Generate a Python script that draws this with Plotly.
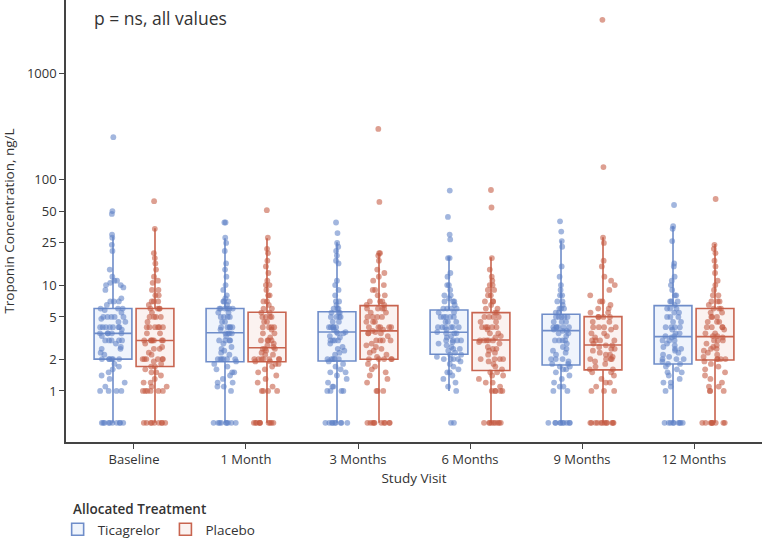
import plotly.graph_objects as go

visits = ["Baseline", "1 Month", "3 Months", "6 Months", "9 Months", "12 Months"]

# box statistics (ng/L)
tic_q1 = [2.0, 1.89, 1.92, 2.22, 1.76, 1.8]
tic_med = [3.5, 3.55, 3.6, 3.58, 3.71, 3.26]
tic_q3 = [6.0, 6.0, 5.6, 5.82, 5.3, 6.4]
tic_hi = [28.6, 27.7, 25.4, 18.5, 26.3, 36.0]
tic_lo = [0.5, 0.5, 0.5, 1.0, 0.5, 0.5]

pla_q1 = [1.7, 1.89, 1.99, 1.56, 1.58, 1.96]
pla_med = [3.0, 2.56, 3.69, 3.03, 2.72, 3.26]
pla_q3 = [6.0, 5.53, 6.4, 5.49, 5.03, 6.0]
pla_hi = [34.4, 27.7, 20.0, 18.3, 28.3, 24.4]
pla_lo = [0.5, 0.5, 0.5, 0.5, 0.5, 0.5]

# individual patient values (values below detection shown at 0.5)
tic_baseline = [249, 50, 47, 30, 28, 24, 21, 14, 12, 11, 11, 10.5, 10, 10, 9.5, 9, 7.5, 7, 7, 7, 6.5, 6, 6, 6,
                5.8, 5.5, 5, 5, 5, 5, 5, 4.8, 4.5, 4.5, 4, 4, 4, 4, 4, 4, 4, 3.8, 3.5, 3.5, 3.5, 3.5, 3.5,
                3.3, 3, 3, 3, 3, 3, 2.8, 2.6, 2.5, 2.5, 2.3, 2.2, 2, 2, 2, 2, 2, 2, 1.8, 1.7, 1.6, 1.5, 1.4,
                1.3, 1.2, 1.1, 1, 1, 1, 1] + [0.5] * 10
pla_baseline = [62, 34, 20, 18, 16, 14, 12, 11, 10.5, 9, 9, 8, 8, 7, 7, 7, 6.5, 6, 6, 6, 6, 5.5, 5, 5, 5, 5,
                4.5, 4, 4, 4, 4, 4, 4, 3.5, 3.5, 3, 3, 3, 3, 3, 3, 3, 2.8, 2.6, 2.5, 2.5, 2.3, 2.2, 2, 2, 2,
                2, 2, 2, 1.9, 1.8, 1.7, 1.7, 1.6, 1.5, 1.5, 1.4, 1.3, 1.2, 1.2, 1.1, 1, 1, 1, 1, 1, 1,
                1.1] + [0.5] * 9
tic_1m = [39, 39, 28, 25, 21, 16, 14, 12, 10, 9, 8, 7.5, 7, 7, 7, 6.5, 6, 6, 6, 6, 6, 6, 5.5, 5.5, 5, 5, 5, 5,
          4.5, 4.5, 4, 4, 4, 4, 4, 3.8, 3.5, 3.5, 3.5, 3.5, 3.3, 3, 3, 3, 3, 2.8, 2.6, 2.5, 2.4, 2.3, 2.2, 2,
          2, 2, 2, 2, 2, 1.9, 1.8, 1.7, 1.6, 1.5, 1.5, 1.4, 1.3, 1.2, 1.2, 1.1, 1.1, 1] + [0.5] * 9
pla_1m = [51, 28, 22, 20, 17, 15, 13, 11, 10, 10, 9, 8, 8, 7, 7, 6.5, 6, 6, 5.5, 5.5, 5, 5, 5, 5, 4.5, 4.5, 4,
          4, 4, 4, 3.8, 3.5, 3.5, 3.2, 3, 3, 3, 3, 2.8, 2.7, 2.6, 2.5, 2.5, 2.5, 2.4, 2.3, 2.2, 2.2, 2, 2, 2,
          2, 2, 2, 2, 1.9, 1.9, 1.8, 1.8, 1.7, 1.6, 1.5, 1.4, 1.3, 1.2, 1.1, 1, 1, 1, 1] + [0.5] * 10
tic_3m = [39, 31, 25, 23, 21, 19, 17, 16, 11, 10, 9, 8, 7, 7, 6.5, 6, 6, 6, 5.5, 5.5, 5.5, 5, 5, 5, 5, 4.5,
          4.5, 4, 4, 4, 4, 4, 3.8, 3.6, 3.6, 3.5, 3.5, 3.3, 3.2, 3, 3, 3, 3, 2.8, 2.6, 2.5, 2.4, 2.3, 2.2, 2,
          2, 2, 2, 2, 1.9, 1.8, 1.7, 1.6, 1.5, 1.5, 1.4, 1.3, 1.2, 1.1, 1.1, 1, 1, 1, 1] + [0.5] * 9
pla_3m = [298, 61, 20, 20, 19, 17, 14, 13, 12, 11, 10, 9, 9, 8, 8, 7, 7, 7, 6.5, 6.5, 6, 6, 6, 6, 5.5, 5.5, 5,
          5, 5, 5, 4.5, 4.5, 4.5, 4, 4, 4, 4, 4, 3.8, 3.7, 3.6, 3.5, 3.5, 3.5, 3.3, 3, 3, 3, 3, 2.8, 2.7,
          2.6, 2.5, 2.4, 2.3, 2.2, 2.1, 2, 2, 2, 2, 2, 1.8, 1.7, 1.6, 1.5, 1.4, 1.3, 1.2, 1, 1, 1] + [0.5] * 10
tic_6m = [78, 44, 30, 27, 18, 18, 13, 12, 10, 10, 9, 8, 8, 7.5, 7, 7, 7, 6.5, 6, 6, 6, 6, 5.5, 5.5, 5, 5, 5, 5,
          5, 4.5, 4.5, 4.5, 4, 4, 4, 4, 4, 4, 3.8, 3.6, 3.5, 3.5, 3.5, 3.3, 3.2, 3, 3, 3, 3, 2.9, 2.8, 2.7,
          2.6, 2.5, 2.5, 2.4, 2.3, 2.2, 2.2, 2.1, 2, 2, 2, 2, 1.9, 1.8, 1.7, 1.6, 1.5, 1.5, 1.4, 1.3, 1.2,
          1.1, 1, 0.5, 0.5]
pla_6m = [79, 54, 18, 14, 12, 11, 10, 10, 9, 9, 8, 8, 7, 7, 7, 6.5, 6, 6, 5.5, 5.5, 5, 5, 5, 5, 4.5, 4.5, 4, 4,
          4, 4, 4, 3.8, 3.5, 3.5, 3.3, 3.2, 3, 3, 3, 3, 3, 2.9, 2.8, 2.6, 2.5, 2.5, 2.4, 2.3, 2.2, 2, 2, 2, 2,
          1.9, 1.8, 1.7, 1.6, 1.5, 1.5, 1.4, 1.4, 1.3, 1.2, 1.2, 1.1, 1, 1, 1, 1, 1] + [0.5] * 9
tic_9m = [40, 32, 26, 23, 15, 12, 10, 9, 8, 8, 7, 7, 6.5, 6, 6, 6, 5.5, 5.5, 5, 5, 5, 5, 5, 4.5, 4.5, 4.5, 4, 4,
          4, 4, 4, 4, 3.8, 3.7, 3.7, 3.5, 3.5, 3.3, 3, 3, 3, 3, 2.8, 2.6, 2.5, 2.4, 2.3, 2.2, 2, 2, 2, 1.9,
          1.8, 1.8, 1.7, 1.7, 1.6, 1.6, 1.5, 1.4, 1.3, 1.2, 1.1, 1.1, 1, 1] + [0.5] * 10
pla_9m = [3200, 130, 28, 25, 17, 15, 12, 11, 10, 9, 8, 7, 7, 6.5, 6, 6, 5.5, 5.5, 5, 5, 5, 5, 4.5, 4.5, 4, 4, 4,
          4, 3.8, 3.5, 3.5, 3.3, 3.2, 3, 3, 3, 3, 2.8, 2.7, 2.7, 2.6, 2.5, 2.5, 2.4, 2.3, 2.2, 2.2, 2.1, 2, 2,
          2, 2, 1.9, 1.8, 1.7, 1.6, 1.6, 1.5, 1.5, 1.4, 1.3, 1.2, 1.2, 1.1, 1, 1, 1] + [0.5] * 12
tic_12m = [57, 36, 34, 26, 16, 15, 12, 11, 10, 9, 8, 8, 7, 7, 7, 6.5, 6, 6, 6, 5.5, 5.5, 5, 5, 5, 4.5, 4.5, 4,
           4, 4, 4, 3.8, 3.5, 3.5, 3.3, 3.3, 3.2, 3, 3, 3, 2.8, 2.7, 2.6, 2.5, 2.5, 2.4, 2.3, 2.2, 2.1, 2, 2,
           2, 1.9, 1.8, 1.8, 1.7, 1.6, 1.5, 1.5, 1.4, 1.3, 1.2, 1.2, 1.1, 1] + [0.5] * 9
pla_12m = [65, 24, 22, 20, 17, 15, 13, 11, 10, 9, 8, 8, 7, 7, 7, 6.5, 6, 6, 6, 5.5, 5.5, 5, 5, 5, 4.5, 4.5, 4.5,
           4, 4, 4, 4, 3.8, 3.5, 3.5, 3.3, 3.3, 3.2, 3, 3, 3, 2.8, 2.7, 2.6, 2.5, 2.5, 2.4, 2.3, 2.2, 2.1, 2,
           2, 2, 2, 1.9, 1.8, 1.7, 1.6, 1.5, 1.4, 1.3, 1.2, 1.1, 1.1, 1, 1, 1] + [0.5] * 9

tic_points = [tic_baseline, tic_1m, tic_3m, tic_6m, tic_9m, tic_12m]
pla_points = [pla_baseline, pla_1m, pla_3m, pla_6m, pla_9m, pla_12m]

FONT = "Open Sans"
TXT = "#333333"

groups = [
    ("Ticagrelor", "tic", tic_q1, tic_med, tic_q3, tic_lo, tic_hi, tic_points,
     "#6F8DC9", "rgba(232,239,251,0.7)", "#5F82C6"),
    ("Placebo", "pla", pla_q1, pla_med, pla_q3, pla_lo, pla_hi, pla_points,
     "#C8644F", "rgba(250,236,233,0.7)", "#C45A42"),
]

fig = go.Figure()

for name, grp, q1, med, q3, lo, hi, pts, line_c, fill_c, pt_c in groups:
    fig.add_trace(go.Box(
        x=visits, q1=q1, median=med, q3=q3, lowerfence=lo, upperfence=hi,
        name=name, offsetgroup=grp, legendgroup=grp,
        line=dict(color=line_c, width=1.6), fillcolor=fill_c,
        whiskerwidth=0, boxpoints=False, hoverinfo="skip",
    ))

for name, grp, q1, med, q3, lo, hi, pts, line_c, fill_c, pt_c in groups:
    xs, ys = [], []
    for v, vals in zip(visits, pts):
        xs += [v] * len(vals)
        ys += vals
    fig.add_trace(go.Box(
        x=xs, y=ys, name=name, offsetgroup=grp, legendgroup=grp, showlegend=False,
        boxpoints="all", jitter=0.7, pointpos=0,
        line=dict(color="rgba(0,0,0,0)", width=0), fillcolor="rgba(0,0,0,0)",
        marker=dict(color=pt_c, size=5.8, opacity=0.58),
    ))

fig.add_annotation(
    text="p = ns, all values", xref="paper", yref="paper", x=0.037, y=0.99,
    xanchor="left", yanchor="top", showarrow=False,
    font=dict(family=FONT, size=17.5, color=TXT, weight=500),
)
# legend heading, placed by hand so it lines up with the first legend icon
fig.add_annotation(
    text="Allocated Treatment", xref="paper", yref="paper", x=0.007, y=-0.152,
    xanchor="left", yanchor="middle", showarrow=False,
    font=dict(family=FONT, size=13.5, color=TXT, weight=600),
)

fig.update_layout(
    width=762, height=538,
    margin=dict(l=66, r=0, t=0, b=96, autoexpand=False),
    plot_bgcolor="white", paper_bgcolor="white",
    boxmode="group", boxgap=0.25, boxgroupgap=0.1,
    font=dict(family=FONT, size=12, color=TXT),
    legend=dict(
        orientation="h", x=-0.012, xanchor="left", y=-0.163, yanchor="top",
        font=dict(size=13.5, color=TXT), itemwidth=30, tracegroupgap=0,
    ),
)

fig.update_xaxes(
    automargin=False,
    range=[-0.607, 5.607], showline=True, linecolor="#444444", linewidth=1.5,
    ticks="outside", ticklen=5, tickcolor="#444444", showgrid=False,
    tickfont=dict(size=13, color=TXT),
    title=dict(text="Study Visit", font=dict(size=13.5, color=TXT, weight=500), standoff=6),
)
fig.update_yaxes(
    automargin=False,
    type="log", range=[-0.482, 3.692], showline=True, linecolor="#444444", linewidth=1.5,
    ticks="outside", ticklen=5, tickcolor="#444444", showgrid=False, zeroline=False,
    tickvals=[1, 2, 5, 10, 25, 50, 100, 1000], ticktext=["1", "2", "5", "10", "25", "50", "100", "1000"],
    tickfont=dict(size=13, color=TXT),
    title=dict(text="Troponin Concentration, ng/L", font=dict(size=13.5, color=TXT), standoff=10),
)

# the page's default body margin would shift the figure by 8px
fig.write_html("out.html", config={"displayModeBar": False},
               post_script="document.body.style.margin = '0';")
